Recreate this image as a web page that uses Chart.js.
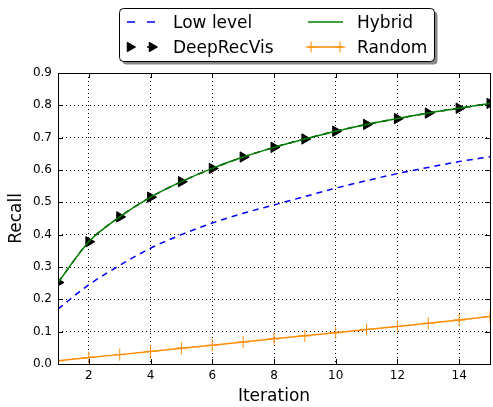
<!DOCTYPE html>
<html>
<head>
<meta charset="utf-8">
<script src="https://cdn.jsdelivr.net/npm/chart.js@4/dist/chart.umd.min.js"></script>
<style>
  html, body { margin: 0; padding: 0; background: #fff; }
  #wrap { width: 493px; height: 407px; overflow: hidden; position: relative; }
  canvas { display: block; }
</style>
</head>
<body>
<div id="wrap"><canvas id="c" width="497" height="407"></canvas></div>
<script>
// ---- data ----
const iterations = [1, 2, 3, 4, 5, 6, 7, 8, 9, 10, 11, 12, 13, 14, 15];
const lowLevel   = [0.170, 0.245, 0.305, 0.358, 0.400, 0.436, 0.466, 0.492, 0.518, 0.544, 0.567, 0.589, 0.608, 0.626, 0.641];
const deepRecVis = [0.252, 0.378, 0.455, 0.516, 0.564, 0.605, 0.640, 0.670, 0.696, 0.720, 0.741, 0.759, 0.776, 0.791, 0.806];
const hybrid     = [0.252, 0.378, 0.455, 0.516, 0.564, 0.605, 0.640, 0.670, 0.696, 0.720, 0.741, 0.759, 0.776, 0.791, 0.806];
const random     = [0.010, 0.020, 0.029, 0.039, 0.049, 0.058, 0.068, 0.078, 0.087, 0.097, 0.107, 0.116, 0.126, 0.136, 0.147];
const seriesNames = ['Low level', 'DeepRecVis', 'Hybrid', 'Random'];
const xTicks = [2, 4, 6, 8, 10, 12, 14];
const yTicks = [0.0, 0.1, 0.2, 0.3, 0.4, 0.5, 0.6, 0.7, 0.8, 0.9];
const xTitle = 'Iteration';
const yTitle = 'Recall';

const FONT = "'DejaVu Sans', sans-serif";
const BLUE = '#0000ff', GREEN = '#008000', ORANGE = '#ff8c00', BLACK = '#000000';

function pts(arr) { return iterations.map((x, i) => ({ x: x, y: arr[i] })); }

// spines + inward ticks
const framePlugin = {
  id: 'frame',
  afterDatasetsDraw(chart) {
    const { ctx, chartArea: a, scales } = chart;
    ctx.save();
    ctx.strokeStyle = '#000';
    ctx.lineWidth = 1;
    ctx.setLineDash([]);
    const L = 5;
    ctx.beginPath();
    xTicks.forEach(v => {
      const px = Math.round(scales.x.getPixelForValue(v)) + 0.5;
      ctx.moveTo(px, a.bottom); ctx.lineTo(px, a.bottom - L);
      ctx.moveTo(px, a.top); ctx.lineTo(px, a.top + L);
    });
    yTicks.forEach(v => {
      const py = Math.round(scales.y.getPixelForValue(v)) + 0.5;
      ctx.moveTo(a.left, py); ctx.lineTo(a.left + L, py);
      ctx.moveTo(a.right, py); ctx.lineTo(a.right - L, py);
    });
    ctx.stroke();
    ctx.strokeRect(Math.round(a.left) + 0.5, Math.round(a.top) + 0.5,
                   Math.round(a.right - a.left), Math.round(a.bottom - a.top));
    ctx.restore();
  }
};

// legend drawn in matplotlib style (two columns, shadowed rounded box)
function roundRect(ctx, x, y, w, h, r) {
  ctx.beginPath();
  ctx.moveTo(x + r, y);
  ctx.lineTo(x + w - r, y); ctx.arcTo(x + w, y, x + w, y + r, r);
  ctx.lineTo(x + w, y + h - r); ctx.arcTo(x + w, y + h, x + w - r, y + h, r);
  ctx.lineTo(x + r, y + h); ctx.arcTo(x, y + h, x, y + h - r, r);
  ctx.lineTo(x, y + r); ctx.arcTo(x, y, x + r, y, r);
  ctx.closePath();
}
const legendPlugin = {
  id: 'mplLegend',
  afterDraw(chart) {
    const ctx = chart.ctx;
    const bx = 119.5, by = 8.5, bw = 315, bh = 53;
    ctx.save();
    ctx.fillStyle = '#888';
    roundRect(ctx, bx + 3, by + 3, bw, bh, 4); ctx.fill();
    ctx.fillStyle = '#fff';
    roundRect(ctx, bx, by, bw, bh, 4); ctx.fill();
    ctx.strokeStyle = '#000'; ctx.lineWidth = 1;
    ctx.stroke();

    const ds = chart.data.datasets;
    const cols = [{ lx0: 127, lx1: 155, tx: 173 }, { lx0: 308, lx1: 343, tx: 357 }];
    const rows = [{ cy: 22, base: 28 }, { cy: 47, base: 53 }];
    const items = [
      { d: ds[0], c: 0, r: 0, dash: [8, 12] }, { d: ds[1], c: 0, r: 1, dash: [8, 12] },
      { d: ds[2], c: 1, r: 0 }, { d: ds[3], c: 1, r: 1 }
    ];
    items.forEach(it => {
      const col = cols[it.c], row = rows[it.r], d = it.d;
      ctx.save();
      ctx.strokeStyle = d.borderColor;
      ctx.lineWidth = d.borderWidth;
      ctx.setLineDash(it.dash || []);
      ctx.beginPath();
      ctx.moveTo(col.lx0, row.cy); ctx.lineTo(col.lx1, row.cy);
      ctx.stroke();
      ctx.restore();
      if (d.pointRadius > 0) {
        [col.lx0 + 3, col.lx1 - 3].forEach(px => {
          ctx.save();
          ctx.fillStyle = d.pointBackgroundColor;
          ctx.strokeStyle = d.pointBorderColor;
          ctx.lineWidth = d.pointBorderWidth;
          Chart.helpers.drawPoint(ctx, {
            pointStyle: d.pointStyle, rotation: d.pointRotation || 0,
            radius: d.pointRadius - 0.5, borderWidth: d.pointBorderWidth
          }, px, row.cy);
          ctx.restore();
        });
      }
      ctx.fillStyle = '#000';
      ctx.font = '17px ' + FONT;
      ctx.textAlign = 'left';
      ctx.textBaseline = 'alphabetic';
      ctx.fillText(d.label, col.tx, row.base);
    });
    ctx.restore();
  }
};

new Chart(document.getElementById('c'), {
  type: 'line',
  data: {
    datasets: [
      { label: seriesNames[0], data: pts(lowLevel), borderColor: BLUE, backgroundColor: BLUE,
        borderWidth: 1.5, borderDash: [6, 5], pointRadius: 0, tension: 0.4,
        cubicInterpolationMode: 'monotone', order: 2 },
      { label: seriesNames[1], data: pts(deepRecVis), borderColor: BLACK, backgroundColor: BLACK,
        borderWidth: 1.5, borderDash: [6, 6], pointStyle: 'triangle', pointRotation: 90,
        pointRadius: 6, pointBackgroundColor: BLACK, pointBorderColor: BLACK, pointBorderWidth: 1,
        tension: 0.4, cubicInterpolationMode: 'monotone', order: 1 },
      { label: seriesNames[2], data: pts(hybrid), borderColor: GREEN, backgroundColor: GREEN,
        borderWidth: 1.5, pointRadius: 0, tension: 0.4, cubicInterpolationMode: 'monotone', order: 0 },
      { label: seriesNames[3], data: pts(random), borderColor: ORANGE, backgroundColor: ORANGE,
        borderWidth: 1.5, pointStyle: 'cross', pointRadius: 6, pointBackgroundColor: ORANGE,
        pointBorderColor: ORANGE, pointBorderWidth: 1, tension: 0, order: 3 }
    ]
  },
  options: {
    responsive: false,
    animation: false,
    events: [],
    layout: { padding: { top: 73, right: 2, left: 0, bottom: 0 } },
    plugins: { legend: { display: false }, tooltip: { enabled: false }, title: { display: false } },
    scales: {
      x: {
        type: 'linear', min: 1, max: 15,
        afterBuildTicks(s) { s.ticks = xTicks.map(v => ({ value: v })); },
        afterFit(s) { s.height = 43; },
        grid: { color: '#000', lineWidth: 1, drawTicks: false },
        border: { display: false, dash: [1, 3] },
        ticks: { color: '#000', font: { family: FONT, size: 12 }, padding: 5, maxRotation: 0,
                 callback: v => String(v) },
        title: { display: true, text: xTitle, color: '#000', font: { family: FONT, size: 17 },
                 padding: { top: 0, bottom: 0 } }
      },
      y: {
        type: 'linear', min: 0, max: 0.9,
        afterBuildTicks(s) { s.ticks = yTicks.map(v => ({ value: v })); },
        afterFit(s) { s.width = 58; },
        grid: { color: '#000', lineWidth: 1, drawTicks: false },
        border: { display: false, dash: [1, 3] },
        ticks: { color: '#000', font: { family: FONT, size: 12 }, padding: 6,
                 callback: v => Number(v).toFixed(1) },
        title: { display: true, text: yTitle, color: '#000', font: { family: FONT, size: 17 },
                 padding: { top: 6, bottom: 0 } }
      }
    }
  },
  plugins: [framePlugin, legendPlugin]
});
</script>
</body>
</html>
